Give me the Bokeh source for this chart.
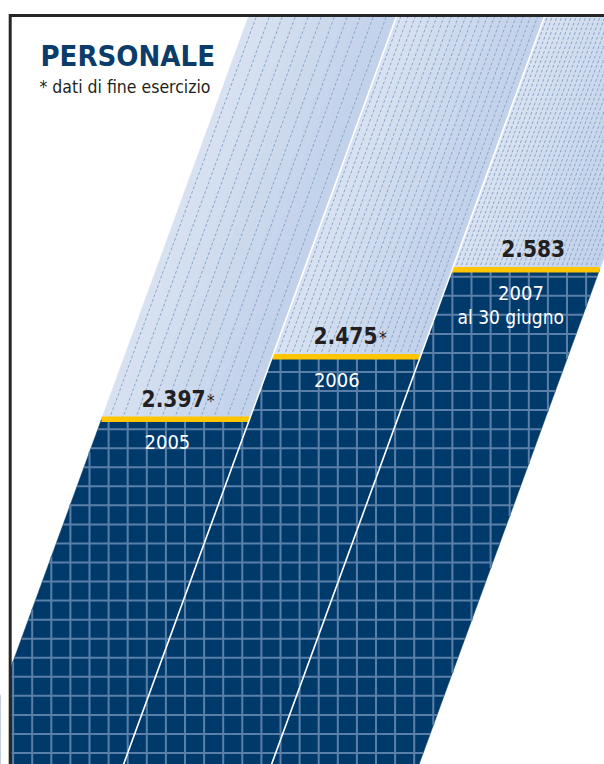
from bokeh.plotting import figure
from bokeh.models import Range1d, Label
from bokeh.embed import file_html
from bokeh.resources import INLINE
from bokeh.core.properties import value

# ---- data -------------------------------------------------------------
years = ["2005", "2006", "2007"]
sublabels = ["", "", "al 30 giugno"]
headcount = [2397, 2475, 2583]
value_labels = ["2.397", "2.475", "2.583"]
year_end_marks = ["*", "*", ""]          # "*" = dato di fine esercizio

# ---- canvas / scale ---------------------------------------------------
W, H = 604, 764
PX_PER_UNIT = 0.804                      # vertical pixels per employee
V_BOTTOM = 1967.7
V_TOP = V_BOTTOM + H / PX_PER_UNIT


def v_of_px(y_px):
    """Screen row (from the top) expressed in value units."""
    return V_TOP - y_px / PX_PER_UNIT


def dv(px):
    """A vertical pixel distance expressed in value units."""
    return px / PX_PER_UNIT


SLANT = 0.365 * PX_PER_UNIT              # horizontal shift per value unit
BAND_X0 = [-25, 123, 271]                # left edge of each band at V_BOTTOM
BAND_W = 147.5
V_CLIP = v_of_px(16)                     # top of the framed area

HATCH_STEP = [13.0, 7.2, 4.8]
VALUE_DX = [26, 27, 35]                  # right edge of the bold figure
YEAR_DX = [3.5, 2, 6.5]
SUB_DX = [0, 0, 5]

NAVY = "#003a6b"
GRID = "#5a80aa"
YELLOW = "#ffc600"
INK = "#231f20"
FONT = "DejaVu Sans Condensed, Liberation Sans Narrow, Roboto, sans-serif"
BASE_SHIFT = 0.4                         # text anchor sits this many em above the baseline

FS_TITLE, FS_SUB, FS_VAL, FS_AST, FS_YEAR, FS_NOTE = 29, 17.5, 22.5, 17, 20, 19


def left(i, v):
    return BAND_X0[i] + SLANT * (v - V_BOTTOM)


def mix(c1, c2, t):
    a = [int(c1[k:k + 2], 16) for k in (1, 3, 5)]
    b = [int(c2[k:k + 2], 16) for k in (1, 3, 5)]
    return "#%02x%02x%02x" % tuple(round(a[j] + (b[j] - a[j]) * t) for j in range(3))


p = figure(width=W, height=H, x_range=Range1d(0, W), y_range=Range1d(V_BOTTOM, V_TOP),
           output_backend="svg", toolbar_location=None, min_border=0,
           x_axis_type=None, y_axis_type=None)
p.outline_line_color = None
p.background_fill_color = "white"
p.border_fill_color = "white"

# ---- light upper part of each band: soft gradient + dashed hatching ----
N_STRIPS = 14
sx, sy, sc = [], [], []
hx, hy = [], []
for i, v in enumerate(headcount):
    for k in range(N_STRIPS):
        d0 = BAND_W * k / N_STRIPS
        d1 = BAND_W * (k + 1) / N_STRIPS
        sx.append([left(i, v) + d0, left(i, v) + d1, left(i, V_CLIP) + d1, left(i, V_CLIP) + d0])
        sy.append([v, v, V_CLIP, V_CLIP])
        sc.append(mix("#d8e2f1", "#c1d1ea", (k + 0.5) / N_STRIPS))
    d = HATCH_STEP[i] * 0.6
    while d < BAND_W - 1:
        hx.append([left(i, v) + d, left(i, V_CLIP) + d])
        hy.append([v, V_CLIP])
        d += HATCH_STEP[i]
p.patches(sx, sy, fill_color=sc, line_color=sc, line_width=0.6)
p.multi_line(hx, hy, line_color="#8ba5c7", line_width=1, line_dash="3 2")

# ---- dark lower part of each band ---------------------------------------
nx, ny = [], []
vb = V_BOTTOM - 20
for i, v in enumerate(headcount):
    nx.append([left(i, vb), left(i, vb) + BAND_W, left(i, v) + BAND_W, left(i, v)])
    ny.append([vb, vb, v, v])
p.patches(nx, ny, fill_color=NAVY, line_color=NAVY, line_width=0.5)

# square grid inside the dark part
gx, gy = [], []
grid_rows = []
k = 0
while 752.5 - 19.05 * k > 16:
    grid_rows.append(v_of_px(752.5 - 19.05 * k))
    k += 1
grid_cols = [31.7 + 19.1 * k for k in range(-2, 32)]
for i, v in enumerate(headcount):
    for gyv in grid_rows:
        if gyv < v - dv(2):
            gx.append([left(i, gyv), left(i, gyv) + BAND_W])
            gy.append([gyv, gyv])
    for c in grid_cols:
        lo = max(vb, (c - BAND_X0[i] - BAND_W) / SLANT + V_BOTTOM)
        hi = min(v, (c - BAND_X0[i]) / SLANT + V_BOTTOM)
        if hi > lo:
            gx.append([c, c])
            gy.append([lo, hi])
p.multi_line(gx, gy, line_color=GRID, line_width=2)

# ---- yellow level bars ------------------------------------------------
p.segment(x0=[left(i, v) for i, v in enumerate(headcount)],
          x1=[left(i, v) + BAND_W for i, v in enumerate(headcount)],
          y0=headcount, y1=headcount, line_color=YELLOW, line_width=5.5, line_cap="butt")

# thin white separators between bands
p.segment(x0=[left(i, vb) for i in (1, 2)], x1=[left(i, V_CLIP) for i in (1, 2)],
          y0=[vb, vb], y1=[V_CLIP, V_CLIP], line_color="white", line_width=1.6)

# ---- frame ----------------------------------------------------------
p.quad(left=-20, right=8.5, bottom=V_BOTTOM - 50, top=V_TOP + 50,
       fill_color="white", line_color=None)
p.line([9.7, W + 10], [v_of_px(15), v_of_px(15)], line_color="#262626", line_width=2.8)
p.line([9.7, 9.7], [v_of_px(13.6), vb], line_color="#262626", line_width=3)

# ---- labels -----------------------------------------------------------
vy = [v + dv(12 + BASE_SHIFT * FS_VAL) for v in headcount]
vx = [left(i, v + dv(12)) + BAND_W / 2 + VALUE_DX[i] for i, v in enumerate(headcount)]
p.text(x=vx, y=vy, text=value_labels, text_align="right", text_baseline="alphabetic",
       text_font=value(FONT), text_font_style="bold", text_font_size=f"{FS_VAL}px",
       text_color=INK)
p.text(x=[x + 1.5 for x in vx], y=[v + dv(12 + BASE_SHIFT * FS_AST) for v in headcount],
       text=year_end_marks, text_align="left", text_baseline="alphabetic",
       text_font=value(FONT), text_font_size=f"{FS_AST}px", text_color=INK)

yy = [v - dv(31 - BASE_SHIFT * FS_YEAR) for v in headcount]
yx = [left(i, v - dv(31)) + BAND_W / 2 + YEAR_DX[i] for i, v in enumerate(headcount)]
p.text(x=yx, y=yy, text=years, text_align="center", text_baseline="alphabetic",
       text_font=value(FONT), text_font_size=f"{FS_YEAR}px", text_color="white")

uy = [v - dv(55 - BASE_SHIFT * FS_NOTE) for v in headcount]
ux = [left(i, v - dv(55)) + BAND_W / 2 + SUB_DX[i] for i, v in enumerate(headcount)]
p.text(x=ux, y=uy, text=sublabels, text_align="center", text_baseline="alphabetic",
       text_font=value(FONT), text_font_size=f"{FS_NOTE}px", text_color="white")

p.add_layout(Label(x=40, y=H - 67 + BASE_SHIFT * FS_TITLE, x_units="screen", y_units="screen",
                   text="PERSONALE", text_font=FONT, text_font_style="bold",
                   text_font_size=f"{FS_TITLE}px", text_color="#0b3c6a",
                   text_baseline="alphabetic"))
p.add_layout(Label(x=39, y=H - 93 + BASE_SHIFT * FS_SUB, x_units="screen", y_units="screen",
                   text="* dati di fine esercizio", text_font=FONT,
                   text_font_size=f"{FS_SUB}px", text_color=INK, text_baseline="alphabetic"))

open("out.html", "w").write(file_html(p, INLINE))
